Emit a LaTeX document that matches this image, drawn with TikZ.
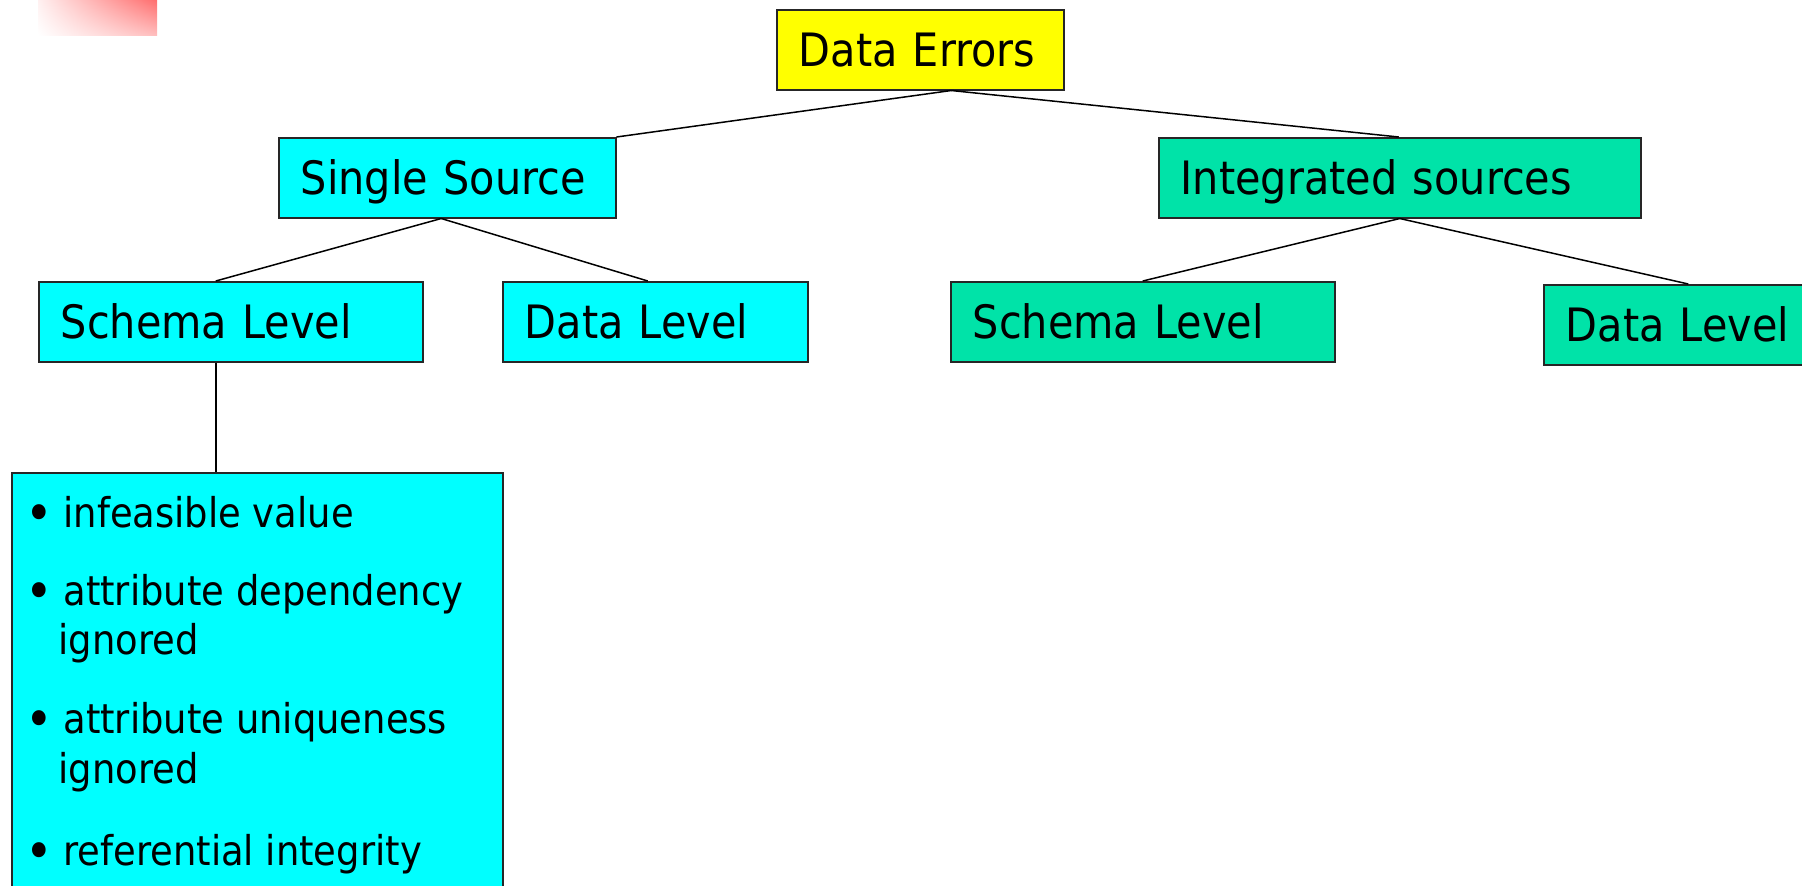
\documentclass[tikz,border=0pt]{standalone}
\usepackage{fontspec}
\setmainfont{DejaVu Sans}[FakeStretch=0.9]
\usetikzlibrary{shadings}
\definecolor{boxyellow}{HTML}{FFFF00}
\definecolor{boxcyan}{HTML}{00FFFF}
\definecolor{boxgreen}{HTML}{00E3A8}
\definecolor{tabred}{HTML}{FF6E6E}
\begin{document}
\begin{tikzpicture}[x=0.5pt,y=-0.5pt,
  box/.style={draw=black!85, line width=0.75pt, inner xsep=11pt, inner ysep=0pt,
    anchor=north west, minimum height=40pt, align=left,
    font=\fontsize{23}{27}\selectfont, text height=16.8pt, text depth=0pt},
  link/.style={line width=0.75pt},
  item/.style={anchor=base west, inner sep=0pt, font=\fontsize{20.5}{24}\selectfont},
  dot/.style={anchor=base west, inner sep=0pt, font=\fontsize{26}{28}\selectfont}]
\clip (0,0) rectangle (1802,885);
\useasboundingbox (0,0) rectangle (1802,885);

% corner tab
\shade[lower left=white, upper right=tabred, upper left=tabred!10, lower right=tabred!45]
  (38,0) rectangle (157,35);

% tree boxes
\node[box, fill=boxyellow, minimum width=143.5pt, text width=121.5pt] (de)  at (776,9)   {Data Errors};
\node[box, fill=boxcyan,   minimum width=168.5pt, text width=146.5pt] (ss)  at (278,137) {Single Source};
\node[box, fill=boxgreen,  minimum width=241pt,   text width=219pt]   (is)  at (1158,137) {Integrated sources};
\node[box, fill=boxcyan,   minimum width=192pt,   text width=170pt]   (sl1) at (38,281)  {Schema Level};
\node[box, fill=boxcyan,   minimum width=152.5pt, text width=130.5pt] (dl1) at (502,281) {Data Level};
\node[box, fill=boxgreen,  minimum width=192pt,   text width=170pt]   (sl2) at (950,281) {Schema Level};
\node[box, fill=boxgreen,  minimum width=153.5pt, text width=131.5pt] (dl2) at (1543,284) {Data Level};

% list of schema-level errors
\node[draw=black!85, line width=0.75pt, fill=boxcyan, anchor=north west, inner sep=0pt,
  minimum width=245.5pt, minimum height=220pt] (rules) at (11,472) {};
\node[dot]  (d1) at (25,531) {•};
\node[item] (t1) at (63,527) {infeasible value};
\node[dot]  (d2) at (25,609) {•};
\node[item] (t2) at (63,605) {attribute dependency};
\node[item] (t3) at (58,654) {ignored};
\node[dot]  (d4) at (25,737) {•};
\node[item] (t4) at (63,733) {attribute uniqueness};
\node[item] (t5) at (58,783) {ignored};
\node[dot]  (d6) at (25,869) {•};
\node[item] (t6) at (63,865) {referential integrity};

% connectors
\draw[link] ([xshift=15.5pt]de.south) -- (ss.north east);
\draw[link] ([xshift=15.5pt]de.south) -- ([xshift=-0.5pt]is.north);
\draw[link] ([xshift=-3pt]ss.south) -- ([xshift=-7.5pt]sl1.north);
\draw[link] ([xshift=-3pt]ss.south) -- ([xshift=-3.75pt]dl1.north);
\draw[link] (is.south) -- (sl2.north);
\draw[link] (is.south) -- ([xshift=-4.5pt]dl2.north);
\draw[link] ([xshift=-7.5pt]sl1.south) -- ([xshift=-7.5pt]sl1.south |- rules.north);
\end{tikzpicture}
\end{document}
